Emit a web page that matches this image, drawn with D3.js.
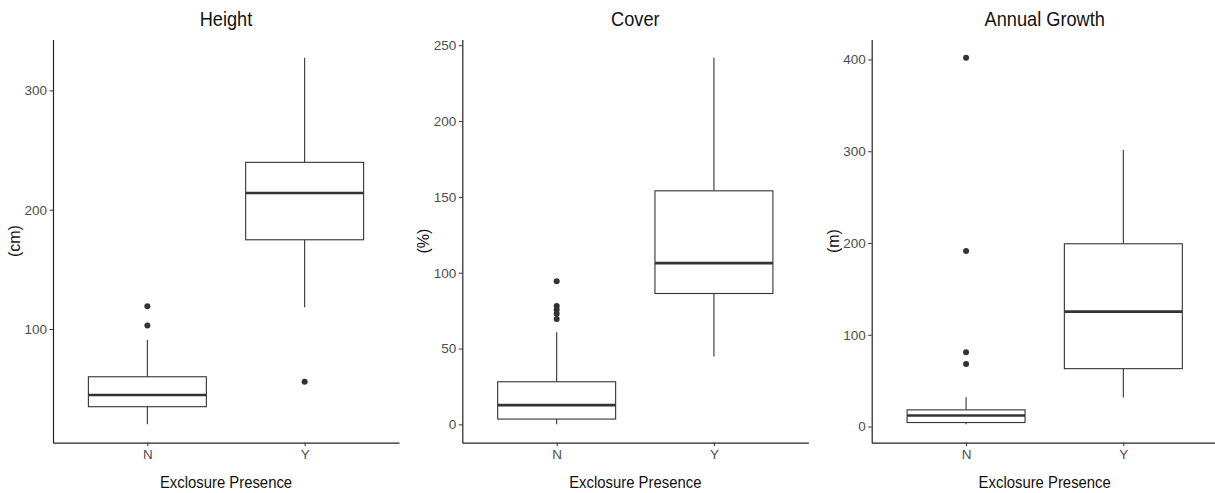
<!DOCTYPE html>
<html lang="en">
<head>
<meta charset="utf-8">
<title>Exclosure boxplots</title>
<script src="https://d3js.org/d3.v7.min.js"></script>
<style>
  body { margin: 0; background: #fff; }
  svg { display: block; font-family: "Liberation Sans", Arial, sans-serif; }
</style>
</head>
<body>
<script>
// categories
var groups = ["N", "Y"];

// box stats per group: [lower whisker, q1, median, q3, upper whisker]
var heightBox = [[20.1, 34.9, 44.7, 60, 90.8], [118.2, 174.8, 214, 239.7, 327.3]];
var heightOut = [[119.2, 103], [55.8]];
var heightTicks = [100, 200, 300];

var coverBox = [[0, 3.5, 12.7, 28.1, 60.8], [44.7, 86.3, 106.3, 154, 241.7]];
var coverOut = [[94.4, 78, 75.5, 73, 69.5], []];
var coverTicks = [0, 50, 100, 150, 200, 250];

var growthBox = [[2.4, 4.4, 12, 18.2, 32], [31.6, 63.1, 125.2, 199.2, 301.3]];
var growthOut = [[401.8, 191.3, 81, 68.3], []];
var growthTicks = [0, 100, 200, 300, 400];

var titles = ["Height", "Cover", "Annual Growth"];
var yLabels = ["(cm)", "(%)", "(m)"];
var xLabel = "Exclosure Presence";

var W = 1215, H = 493;
var svg = d3.select("body").append("svg").attr("width", W).attr("height", H);

var panels = [
  {box: heightBox, out: heightOut, ticks: heightTicks, left: 53, ylabX: 14},
  {box: coverBox, out: coverOut, ticks: coverTicks, left: 462.3, ylabX: 423},
  {box: growthBox, out: growthOut, ticks: growthTicks, left: 871.7, ylabX: 833}
];

// plot area (top is a reserved window name, so plotTop)
var pw = 346, plotTop = 39.5, plotBottom = 442.7;
var ink = "#333333";

panels.forEach(function(p, k) {
  var g = svg.append("g").attr("transform", "translate(" + p.left + ",0)");

  // y domain from data, expanded 5% like ggplot
  var all = [];
  p.box.forEach(function(b) { all = all.concat(b); });
  p.out.forEach(function(o) { all = all.concat(o); });
  var lo = d3.min(all), hi = d3.max(all), pad = (hi - lo) * 0.05;

  var y = d3.scaleLinear().domain([lo - pad, hi + pad]).range([plotBottom, plotTop]);
  var x = d3.scalePoint().domain(groups).range([0, pw]).padding(0.6);
  var bw = x.step() * 0.75;

  // boxes
  groups.forEach(function(grp, i) {
    var s = p.box[i], cx = x(grp);
    var bg = g.append("g");
    bg.append("line").attr("x1", cx).attr("x2", cx).attr("y1", y(s[3])).attr("y2", y(s[4]))
      .attr("stroke", ink).attr("stroke-width", 1.1);
    bg.append("line").attr("x1", cx).attr("x2", cx).attr("y1", y(s[1])).attr("y2", y(s[0]))
      .attr("stroke", ink).attr("stroke-width", 1.1);
    bg.append("rect").attr("x", cx - bw / 2).attr("y", y(s[3]))
      .attr("width", bw).attr("height", y(s[1]) - y(s[3]))
      .attr("fill", "#fff").attr("stroke", ink).attr("stroke-width", 1.1);
    bg.append("line").attr("x1", cx - bw / 2).attr("x2", cx + bw / 2)
      .attr("y1", y(s[2])).attr("y2", y(s[2]))
      .attr("stroke", ink).attr("stroke-width", 2.6);
    bg.selectAll("circle").data(p.out[i]).enter().append("circle")
      .attr("cx", cx).attr("cy", function(d) { return y(d); })
      .attr("r", 3).attr("fill", ink);
  });

  // axes
  var ya = g.append("g").call(d3.axisLeft(y).tickValues(p.ticks).tickSize(3.5).tickSizeOuter(0).tickPadding(2.5));
  var xa = g.append("g").attr("transform", "translate(0," + plotBottom + ")")
    .call(d3.axisBottom(x).tickSize(3.5).tickSizeOuter(0).tickPadding(3));
  [ya, xa].forEach(function(a) {
    a.select(".domain").attr("stroke", "#222").attr("stroke-width", 1.2);
    a.selectAll(".tick line").attr("stroke", ink).attr("stroke-width", 1);
    a.selectAll(".tick text").attr("fill", "#4d4d4d").style("font-size", "13.5px")
      .style("font-family", "Liberation Sans, Arial, sans-serif");
  });

  // titles
  svg.append("text")
    .attr("transform", "translate(" + (p.left + pw / 2) + ",26) scale(0.91,1)")
    .attr("text-anchor", "middle").style("font-size", "20px").attr("fill", "#111")
    .text(titles[k]);
  svg.append("text")
    .attr("transform", "translate(" + (p.left + pw / 2) + ",487.5) scale(0.93,1)")
    .attr("text-anchor", "middle").style("font-size", "16px").attr("fill", "#111")
    .text(xLabel);
  svg.append("text")
    .attr("transform", "translate(" + (p.ylabX + 5.5) + "," + ((plotTop + plotBottom) / 2) + ") rotate(-90)")
    .attr("text-anchor", "middle").style("font-size", "16px").attr("fill", "#111")
    .text(yLabels[k]);
});
</script>
</body>
</html>
